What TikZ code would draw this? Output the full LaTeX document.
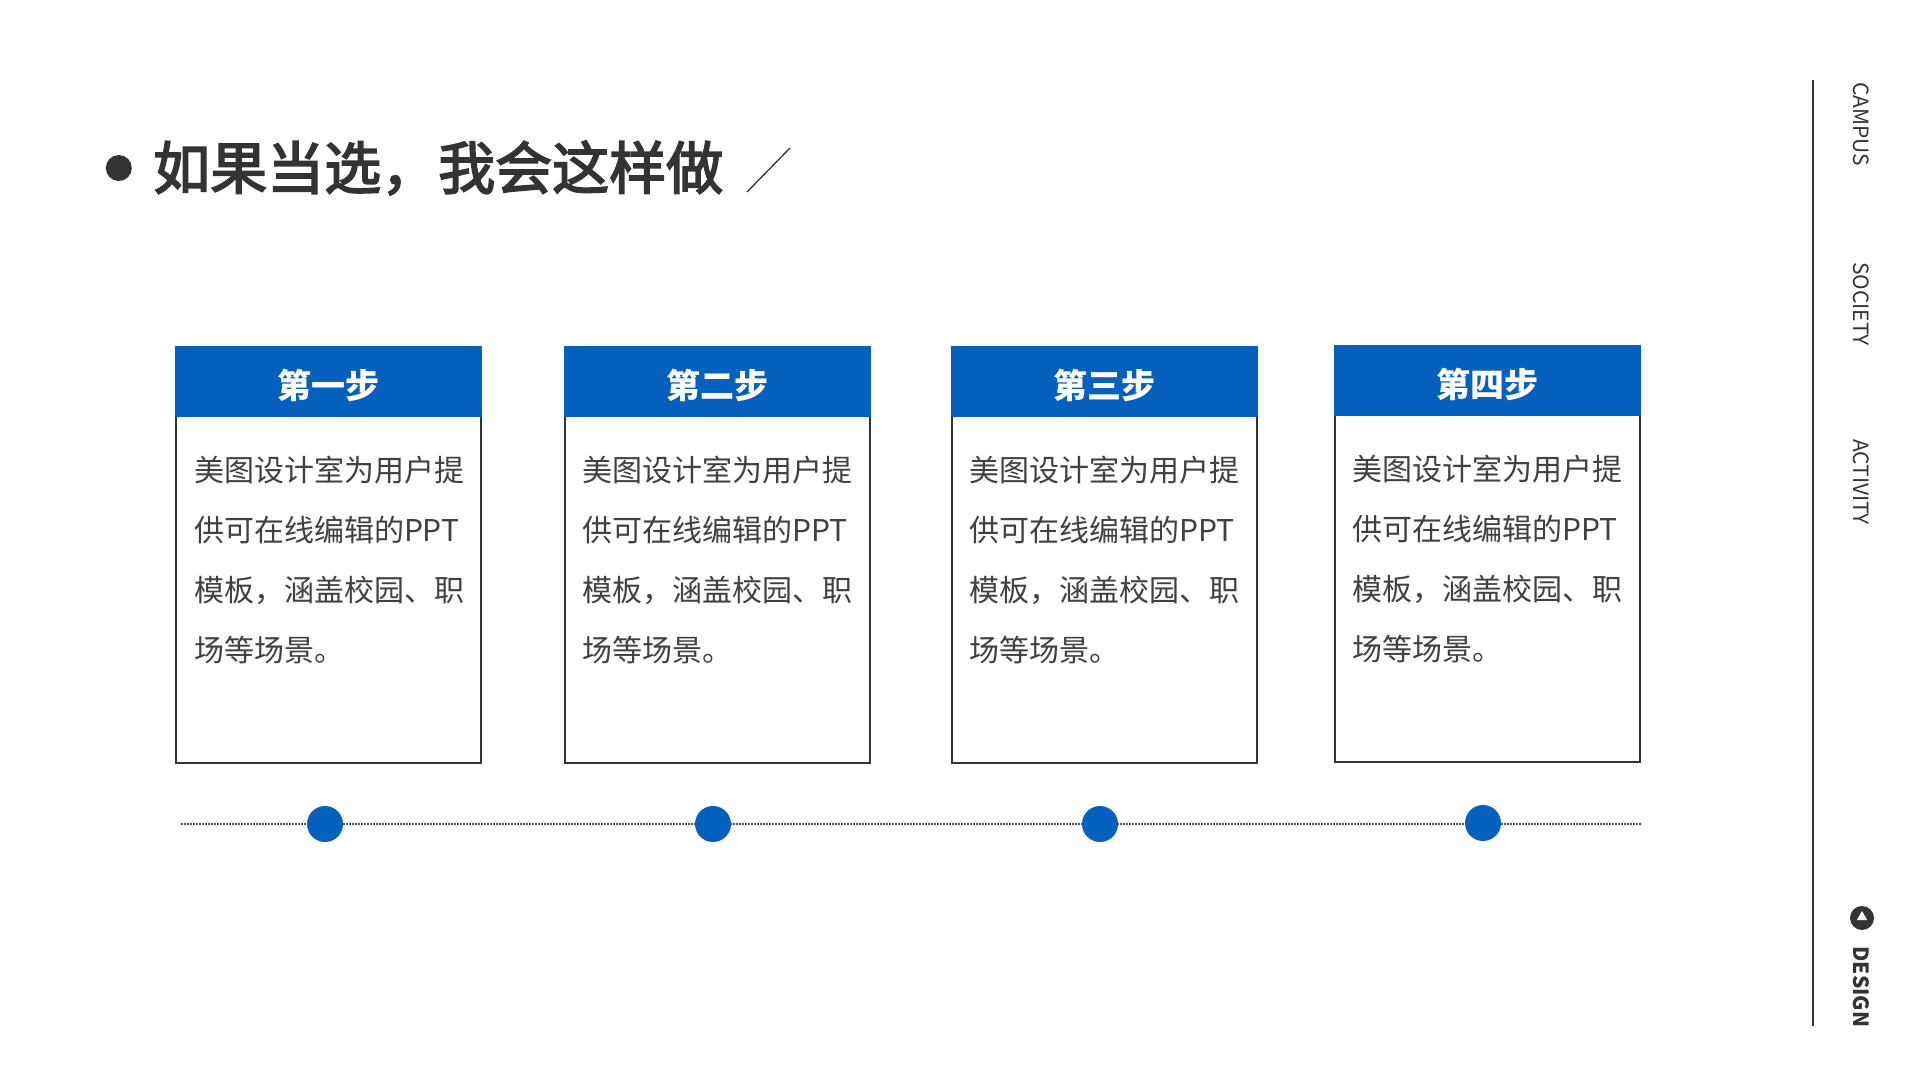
\documentclass[tikz,border=0pt]{standalone}
\usepackage{fontspec}
\setmainfont{Noto Sans CJK SC}
\newfontfamily\titlefont[FakeBold=3]{Noto Sans CJK SC}
\usetikzlibrary{positioning,shapes.geometric}
\definecolor{stepblue}{HTML}{0561BD}
\definecolor{ink}{HTML}{333333}
\definecolor{bodygray}{HTML}{404040}
\tikzset{
  frame/.style={draw=ink, line width=2pt, minimum width=305pt, minimum height=415pt, inner sep=0pt},
  head/.style={fill=stepblue, text=white, font=\fontsize{34}{40}\selectfont\bfseries, text height=34pt, text depth=0pt, minimum width=307pt, minimum height=71pt, inner sep=0pt, anchor=north},
  bodytext/.style={text=bodygray, font=\fontsize{30}{60}\selectfont, align=left, inner sep=0pt, anchor=north west},
  dot/.style={circle, fill=stepblue, minimum size=36pt, inner sep=0pt},
  side/.style={rotate=-90, text=ink, font=\fontsize{21}{24}\selectfont, inner sep=0pt},
  timeline/.style={ink!85, line width=1.6pt, dash pattern=on 1.5pt off 1.5pt},
}
\begin{document}
\begin{tikzpicture}[x=1pt,y=-1pt] %---- steps slide
\fill[white] (0,0) rectangle (1920,1080);
\useasboundingbox (0,0) rectangle (1920,1080);
% --- title
\node[anchor=west, inner sep=0pt, text=ink, font=\fontsize{57}{64}\titlefont] (title) at (153,168) {如果当选，我会这样做};
\node[circle, fill=ink, minimum size=26pt, inner sep=0pt, left=21pt of title] (bullet) {};
\draw[ink, line width=1.3pt] (747,192) -- (790,148);
% --- timeline
\coordinate (tl-start) at (181,824);
\coordinate (tl-end) at (1641,824);
\draw[timeline] (tl-start) -- (tl-end);
% --- step 1
\node[frame] (card1) at (328.5,555.5) {};
\node[head] (head1) at ([yshift=1pt]card1.north) {第一步};
\node[bodytext] (txt1) at ([xshift=19pt,yshift=-38pt]head1.south west) {美图设计室为用户提\\供可在线编辑的PPT\\模板，涵盖校园、职\\场等场景。};
\node[dot] (dot1) at (325,824) {};
% --- step 2
\node[frame] (card2) at (717,555.5) {};
\node[head] (head2) at ([yshift=1pt]card2.north) {第二步};
\node[bodytext] (txt2) at ([xshift=19pt,yshift=-38pt]head2.south west) {美图设计室为用户提\\供可在线编辑的PPT\\模板，涵盖校园、职\\场等场景。};
\node[dot] (dot2) at (713,824) {};
% --- step 3
\node[frame] (card3) at (1104,555.5) {};
\node[head] (head3) at ([yshift=1pt]card3.north) {第三步};
\node[bodytext] (txt3) at ([xshift=19pt,yshift=-38pt]head3.south west) {美图设计室为用户提\\供可在线编辑的PPT\\模板，涵盖校园、职\\场等场景。};
\node[dot] (dot3) at (1100,824) {};
% --- step 4
\node[frame] (card4) at (1487,554.5) {};
\node[head] (head4) at ([yshift=1pt]card4.north) {第四步};
\node[bodytext] (txt4) at ([xshift=19pt,yshift=-38pt]head4.south west) {美图设计室为用户提\\供可在线编辑的PPT\\模板，涵盖校园、职\\场等场景。};
\node[dot] (dot4) at (1483,823) {};
% ---- side bar
\draw[ink, line width=1.5pt] (1813,80) -- (1813,1026);
\node[side] (campus) at (1861,124) {CAMPUS};
\node[side] (society) at (1861,304) {SOCIETY};
\node[side] (activity) at (1861,482) {ACTIVITY};
\node[circle, fill=ink, minimum size=24pt, inner sep=0pt] (icon) at (1862,918) {};
\node[regular polygon, regular polygon sides=3, fill=white, minimum size=12pt, inner sep=0pt] at ([yshift=1pt]icon.center) {};
\node[side, font=\fontsize{21}{24}\selectfont\bfseries] (design) at (1861,987) {DESIGN};
\end{tikzpicture}
\end{document}
